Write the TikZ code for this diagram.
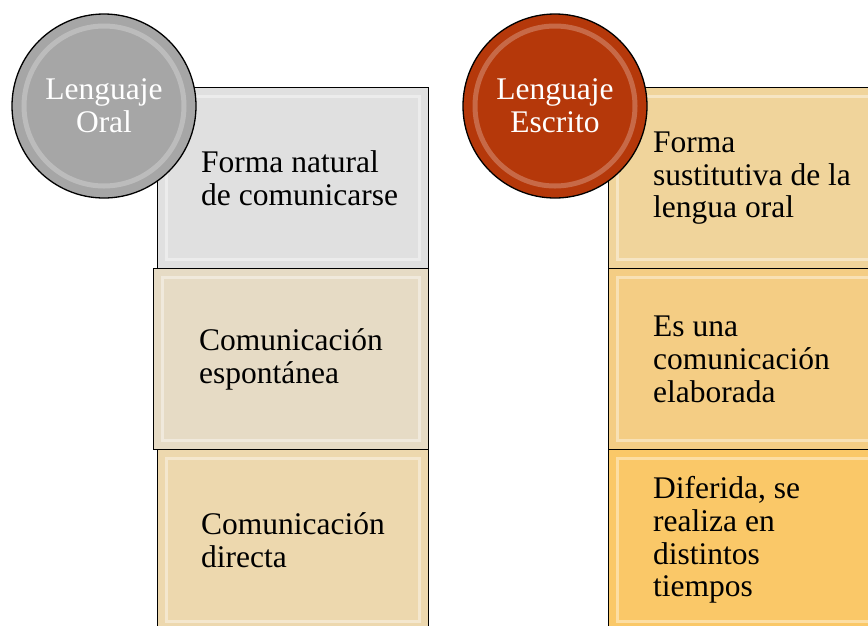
\documentclass[tikz,border=0pt]{standalone}
\usepackage{fontspec}
\setmainfont{Liberation Serif}
\usetikzlibrary{positioning}

\definecolor{oralgray}{HTML}{A6A6A6}
\definecolor{escritored}{HTML}{B5380A}
\definecolor{oraluno}{HTML}{E0E0E0}
\definecolor{oraldos}{HTML}{E6DBC5}
\definecolor{oraltres}{HTML}{EDD8AE}
\definecolor{escrituno}{HTML}{F0D49B}
\definecolor{escritdos}{HTML}{F4CD84}
\definecolor{escrittres}{HTML}{FAC868}

\tikzset{
  cajon/.style={rectangle, draw=black, line width=1.3pt, anchor=north west,
    minimum width=271pt, minimum height=181pt, inner sep=0pt,
    path picture={
      \draw[white, opacity=.4, line width=3pt]
        ([shift={(9pt,-9pt)}]path picture bounding box.north west) rectangle
        ([shift={(-9pt,9pt)}]path picture bounding box.south east);
    }},
  bola/.style={circle, draw=black, line width=1.3pt, minimum size=184pt,
    inner sep=0pt, text=white, align=center,
    font=\fontsize{31.5}{33}\selectfont,
    path picture={
      \draw[white, opacity=.25, line width=5pt]
        (path picture bounding box.center) circle (80pt);
    }},
  texto/.style={align=left, inner sep=0pt, font=\fontsize{31.5}{32.7}\selectfont}
}

\begin{document}
\begin{tikzpicture}[x=1pt, y=-1pt]
  \useasboundingbox (0,0) rectangle (868,625);

  % cajas de la izquierda
  \begin{scope}
    \node[cajon, fill=oraluno]  (o1) at (157,87)  {};
    \node[cajon, fill=oraldos, minimum width=275pt] (o2) at (153,268) {};
    \node[cajon, fill=oraltres] (o3) at (157,449) {};
  \end{scope}

  % cajas de la derecha
  \begin{scope}
    \node[cajon, fill=escrituno]  (e1) at (608,87)  {};
    \node[cajon, fill=escritdos]  (e2) at (608,268) {};
    \node[cajon, fill=escrittres] (e3) at (608,449) {};
  \end{scope}

  \begin{scope}[every node/.style={texto}]
    \node[right=44pt of o1.west] (t1) {Forma natural\\de comunicarse};
    \node[right=46pt of o2.west] (t2) {Comunicación\\espontánea};
    \node[right=44pt of o3.west] (t3) {Comunicación\\directa};
    \node[right=45pt of e1.west] (t4) {Forma\\sustitutiva de la\\lengua oral};
    \node[right=45pt of e2.west] (t5) {Es una\\comunicación\\elaborada};
    \node[right=45pt of e3.west] (t6) {Diferida, se\\realiza en\\distintos\\tiempos};
  \end{scope}

  \node[bola, fill=oralgray]   (oral)    at (104,106) {Lenguaje\\Oral};
  \node[bola, fill=escritored] (escrito) at (555,106) {Lenguaje\\Escrito};

\end{tikzpicture}
\end{document}
